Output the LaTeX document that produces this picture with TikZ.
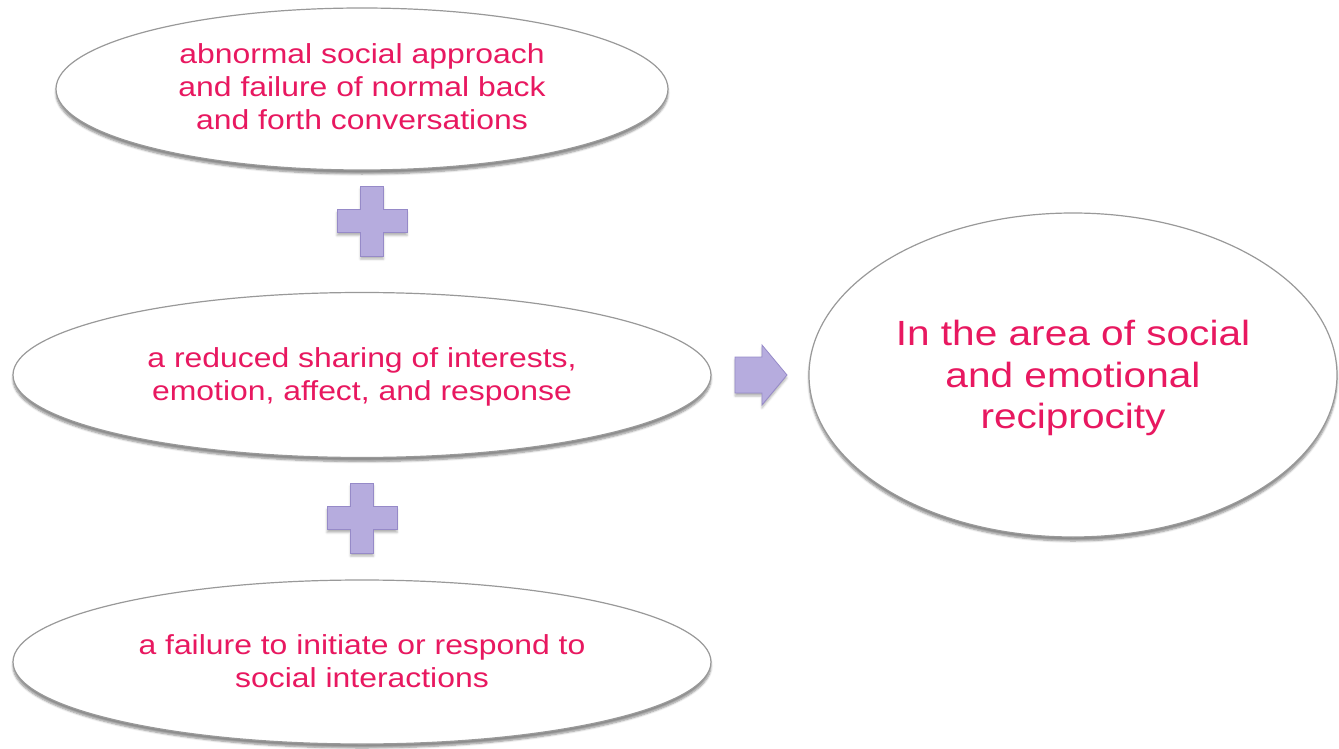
\documentclass[tikz,border=0pt]{standalone}
\usepackage{fontspec}
\usepackage{graphicx}
\setmainfont{Liberation Sans}
\usetikzlibrary{shapes.geometric,shadows.blur}
\definecolor{txtpink}{RGB}{232,24,96}
\definecolor{lav}{RGB}{182,172,222}
\definecolor{lavdark}{RGB}{150,138,200}
\newcommand{\widetxt}[2]{\raisebox{#1}[\height][\depth]{\scalebox{1.16}[1]{\begin{tabular}{@{}c@{}}#2\end{tabular}}}}
\tikzset{
  oval/.style={ellipse, draw=gray!80, line width=1.2pt, fill=white, inner sep=0pt,
    blur shadow={shadow xshift=0pt, shadow yshift=-4pt, shadow blur steps=6, shadow opacity=45},
    text=txtpink, align=center},
  smalltxt/.style={font=\fontsize{27.5}{33}\selectfont},
  bigtxt/.style={font=\fontsize{35}{41.5}\selectfont},
  plusshape/.style={fill=lav, draw=lavdark, line width=0.8pt,
    blur shadow={shadow xshift=0pt, shadow yshift=-3pt, shadow blur steps=4, shadow opacity=30}},
}
\newcommand{\plusat}[3]{%
  \path[plusshape] (#1-35,#2-11.5) -- (#1-11.5,#2-11.5) -- (#1-11.5,#2-35) -- (#1+11.5,#2-35)
   -- (#1+11.5,#2-11.5) -- (#1+35,#2-11.5) -- (#1+35,#2+11.5) -- (#1+11.5,#2+11.5)
   -- (#1+11.5,#2+35) -- (#1-11.5,#2+35) -- (#1-11.5,#2+11.5) -- (#1-35,#2+11.5) -- cycle;
   \coordinate (#3) at (#1,#2);}
\begin{document}
\begin{tikzpicture}[x=1pt,y=-1pt]
\useasboundingbox (0,0) rectangle (1339,749);
\node[oval, minimum width=612pt, minimum height=162pt, smalltxt] (e1) at (362,89)
  {\widetxt{-1pt}{abnormal social approach\\and failure of normal back\\and forth conversations}};
\node[oval, minimum width=698pt, minimum height=165pt, smalltxt] (e2) at (362,375)
  {\widetxt{-2pt}{a reduced sharing of interests,\\emotion, affect, and response}};
\node[oval, minimum width=698pt, minimum height=164pt, smalltxt] (e3) at (362,662)
  {\widetxt{-2pt}{a failure to initiate or respond to\\social interactions}};
\node[oval, minimum width=528pt, minimum height=324pt, bigtxt] (e4) at (1073,375)
  {\widetxt{-4pt}{In the area of social\\and emotional\\reciprocity}};
\plusat{372}{221}{p1}
\plusat{362}{518}{p2}
\path[plusshape] (735,357) -- (762,357) -- (762,345) -- (787,375) -- (762,405) -- (762,393) -- (735,393) -- cycle;
\coordinate (arr) at (761,375);
\end{tikzpicture}
\end{document}
